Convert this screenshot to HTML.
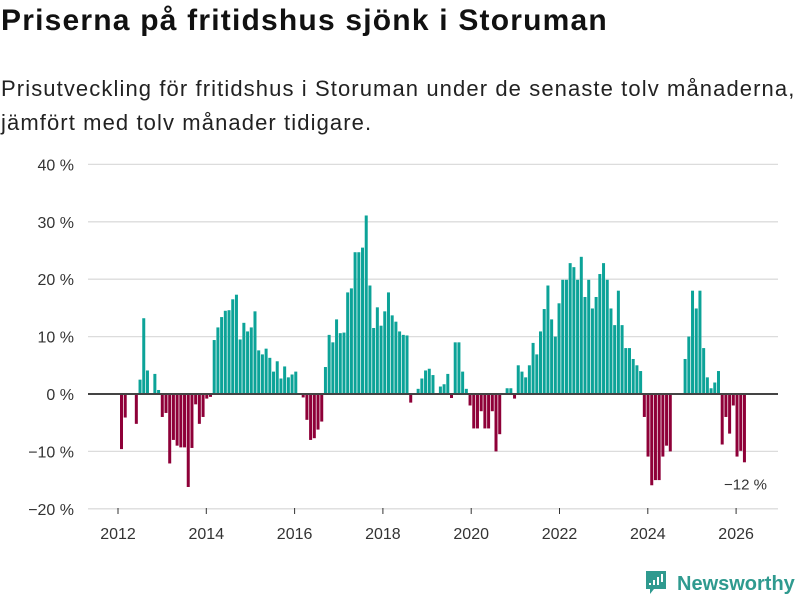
<!DOCTYPE html>
<html><head><meta charset="utf-8"><style>
body{margin:0;background:#fff;font-family:"Liberation Sans","DejaVu Sans",sans-serif;}
#wrap{position:relative;width:800px;height:600px;overflow:hidden;}
h1{position:absolute;left:1px;top:4px;margin:0;font-size:30px;letter-spacing:1.2px;font-weight:bold;color:#111;}
.sub{position:absolute;left:1px;top:72px;margin:0;font-size:22px;letter-spacing:1.1px;line-height:34px;color:#222;}
</style></head><body>
<div id="wrap">
<h1>Priserna på fritidshus sjönk i Storuman</h1>
<p class="sub">Prisutveckling för fritidshus i Storuman under de senaste tolv månaderna,<br>jämfört med tolv månader tidigare.</p>
<svg id="chart" width="800" height="600" style="position:absolute;left:0;top:0"></svg>
</div>
<script>
const yTicks=[40,30,20,10,0,-10,-20];
const yTickLabels=["40 %","30 %","20 %","10 %","0 %","\u221210 %","\u221220 %"];
const xTickYears=[2012,2014,2016,2018,2020,2022,2024,2026];
const startYear=2012;
const values=[-9.6,-4.1,null,null,-5.2,2.5,13.2,4.1,null,3.5,0.7,-4,
-3.3,-12.1,-8,-9,-9.3,-9.3,-16.2,-9.4,-1.8,-5.2,-4,-0.8,
-0.5,9.4,11.6,13.4,14.5,14.6,16.5,17.3,9.5,12.4,10.9,11.6,
14.4,7.6,6.9,7.9,6.3,3.9,5.7,2.7,4.8,2.9,3.4,3.9,
null,-0.6,-4.5,-8,-7.7,-6.2,-4.8,4.7,10.3,9,13,10.6,
10.7,17.7,18.4,24.7,24.7,25.5,31.1,18.9,11.5,15.1,11.9,14.4,
17.7,13.7,12.6,10.9,10.3,10.2,-1.5,null,0.9,2.7,4.1,4.4,
3.3,null,1.3,1.7,3.5,-0.7,9,9,3.9,0.9,-2,-6,
-6,-3,-6,-6,-3,-10,-7,null,1,1,-0.8,5,
3.9,2.9,5,8.9,6.9,10.9,14.8,18.9,13,10,15.8,19.9,
19.9,22.8,22.1,19.9,23.9,16.9,19.9,14.9,16.9,20.9,22.8,19.9,
14.9,12,18,12,8,8,6.1,5,4,-4,-10.9,-15.9,
-15,-15,-10.9,-9,-10,null,null,null,6.1,10,18,14.9,
18,8,2.9,1,2,4,-8.8,-4,-6.9,-2,-10.9,-9.9,-11.9];
const lastLabel="\u221212 %";

const svg=document.getElementById('chart');
const NS='http://www.w3.org/2000/svg';
function y(v){return 394-v*5.74;}
function yearX(yr){return 118+(yr-startYear)*44.15;}
function barX(i){return 120+i*3.708;}
function mk(t,a){const e=document.createElementNS(NS,t);for(const k in a)e.setAttribute(k,a[k]);svg.appendChild(e);return e;}
yTicks.forEach((t,i)=>{
 if(t!==0){const g=mk('line',{x1:88,x2:778,y1:y(t),y2:y(t),stroke:'#dcdcdc','stroke-width':1.3});
 
 }
 const l=mk('text',{x:74,y:y(t)+6,'text-anchor':'end','font-size':16,fill:'#333','font-family':'Liberation Sans, sans-serif'});
 l.textContent=yTickLabels[i];
 
 
});
xTickYears.forEach(yr=>{
 const x=yearX(yr);
 const tk=mk('line',{x1:x,x2:x,y1:508,y2:514,stroke:'#333','stroke-width':1});
 
 
 const l=mk('text',{x:x,y:539,'text-anchor':'middle','font-size':16,fill:'#333','font-family':'Liberation Sans, sans-serif'});
 l.textContent=yr;
 
 
});
values.forEach((v,i)=>{
 if(v===null)return;
 const top=Math.min(y(v),y(0)),h=Math.abs(y(v)-y(0));
 const b=mk('rect',{x:barX(i),y:top,width:3,height:h,fill:v>=0?'#0ca398':'#8e0038'});
 
 
});
const z=mk('line',{x1:88,x2:778,y1:y(0),y2:y(0),stroke:'#444','stroke-width':2});


const li=values.length-1;
const ll=mk('text',{x:barX(li)+24,y:y(values[li])+27,'text-anchor':'end','font-size':15,fill:'#333','font-family':'Liberation Sans, sans-serif'});
ll.textContent=lastLabel;


const lg=mk('g',{});


const lb=document.createElementNS(NS,'path');
lb.setAttribute('d','M646 571 h20 v18 h-12 l-4 5 v-5 h-4 z');lb.setAttribute('fill','#2f9a8f');
lg.appendChild(lb);
[[649,583,2],[653,580,5],[657,577,8],[661,574,8]].forEach(a=>{const r=document.createElementNS(NS,'rect');r.setAttribute('x',a[0]);r.setAttribute('y',a[1]);r.setAttribute('width',2);r.setAttribute('height',a[2]);r.setAttribute('fill','#fff');lg.appendChild(r);});
const lt=document.createElementNS(NS,'text');
lt.setAttribute('x',677);lt.setAttribute('y',590);lt.setAttribute('font-size',20);lt.setAttribute('font-weight','bold');lt.setAttribute('fill','#2f9a8f');lt.setAttribute('font-family','Liberation Sans, sans-serif');
lt.textContent='Newsworthy';
lg.appendChild(lt);
</script>
</body></html>
